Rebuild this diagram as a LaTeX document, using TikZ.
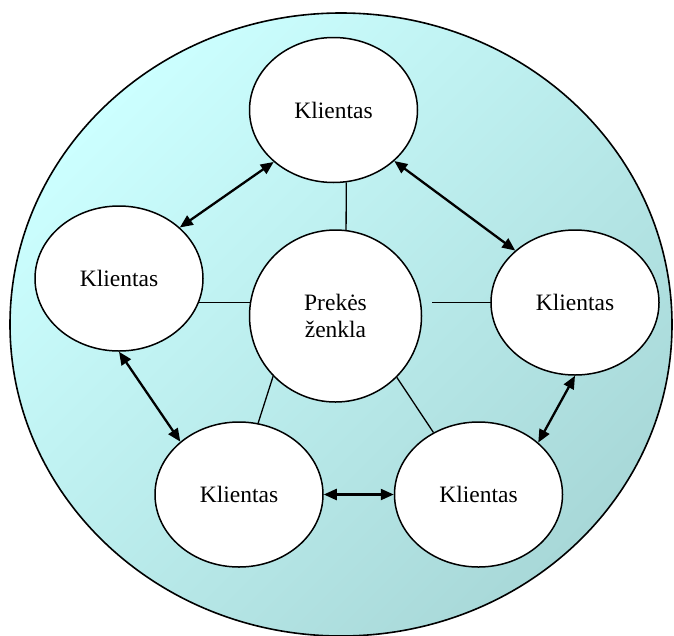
\documentclass[tikz,border=0pt]{standalone}
\usepackage{fontspec}
\setmainfont{Liberation Serif}
\usetikzlibrary{arrows.meta,shapes.geometric}
\definecolor{ringlight}{HTML}{CCFFFF}
\definecolor{ringdark}{HTML}{A8D8D8}
\pgfdeclarelayer{ring}
\pgfdeclarelayer{links}
\pgfsetlayers{ring,links,main}
\tikzset{
  client/.style={ellipse, draw, line width=1.5pt, fill=white,
    minimum width=168pt, minimum height=145pt, inner sep=0pt,
    font=\fontsize{23.5}{27}\selectfont},
  brandnode/.style={circle, draw, line width=1.5pt, fill=white,
    minimum size=172pt, inner sep=0pt, align=center,
    font=\fontsize{23.5}{27}\selectfont},
  link/.style={line width=1.3pt},
  mutual/.style={line width=2.3pt,
    {Triangle[length=13pt,width=11pt]}-{Triangle[length=13pt,width=11pt]}}
}
\begin{document}
\begin{tikzpicture}[x=1pt,y=-1pt]
  \useasboundingbox (0,0) rectangle (674,635);

  % the five clients around the brand
  \node[client]    (ktop)   at (333.5,110)   {Klientas};
  \node[client]    (kleft)  at (119,278.5)   {Klientas};
  \node[client]    (kright) at (575,302.5)   {Klientas};
  \node[client]    (kbl)    at (239,494.5)   {Klientas};
  \node[client]    (kbr)    at (478.5,494.5) {Klientas};
  \node[brandnode] (brand)  at (335.5,316)   {Prekės\\ženkla};

  % shaded ring holding the whole community
  \begin{pgfonlayer}{ring}
    \shade[shading=axis, top color=ringlight, bottom color=ringdark,
      shading angle=45, draw=black, line width=1.6pt]
      (341,324.5) ellipse [x radius=331, y radius=311.5];
  \end{pgfonlayer}

  % brand to client links
  \begin{pgfonlayer}{links}
    \draw[link] (ktop.-80) -- (brand.83);
    \draw[link] (brand.171) -- (brand.171 -| kleft.center);
    \draw[link, shorten <=11pt] (brand.9) -- (brand.9 -| kright.center);
    \draw[link] (brand.224) -- (kbl.75);
    \draw[link] (brand.-45) -- (kbr.126);
  \end{pgfonlayer}

  % client to client relations
  \draw[mutual] (ktop.221.6) -- (kleft.40.6);
  \draw[mutual] (ktop.-40.2) -- (kright.139.4);
  \draw[mutual] (kleft.south) -- (kbl.138.9);
  \draw[mutual] (kbl.east) -- (kbr.west);
  \draw[mutual] (kright.south) -- (kbr.41.4);
\end{tikzpicture}
\end{document}
